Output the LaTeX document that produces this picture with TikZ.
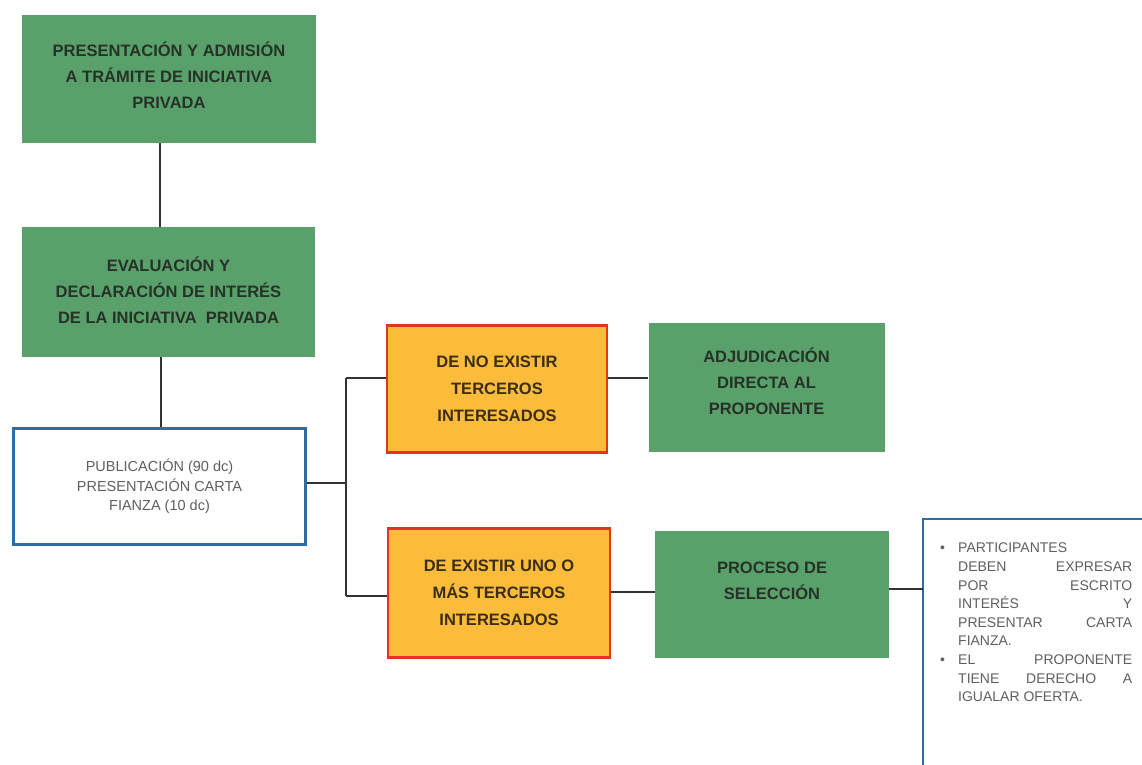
\documentclass[tikz,border=0pt]{standalone}
\usepackage{fontspec}
\setmainfont{Liberation Sans}
\definecolor{gfill}{RGB}{90,160,106}
\definecolor{gtext}{RGB}{38,50,40}
\definecolor{ofill}{RGB}{250,188,58}
\definecolor{oline}{RGB}{228,52,30}
\definecolor{otext}{RGB}{60,45,20}
\definecolor{bline}{RGB}{44,108,168}
\definecolor{btext}{RGB}{95,95,95}
\definecolor{conn}{RGB}{50,50,50}
\tikzset{
  gbox/.style={rectangle, fill=gfill, draw=none, inner sep=0pt},
  gtxt/.style={align=center, inner sep=0pt, text=gtext,
    font=\fontsize{16.5}{26}\selectfont\bfseries},
  obox/.style={rectangle, fill=ofill, draw=oline, line width=2.6pt, align=center, inner sep=0pt,
    text=otext, font=\fontsize{16.5}{27}\selectfont\bfseries},
  wbox/.style={rectangle, fill=white, draw=bline, line width=2.6pt, align=center, inner sep=0pt,
    text=btext, font=\fontsize{14.5}{19.5}\selectfont},
  link/.style={draw=conn, line width=1.6pt}
}
\begin{document}
\begin{tikzpicture}[x=1pt,y=-1pt]
\useasboundingbox (0,0) rectangle (1142,764);
\fill[white] (0,0) rectangle (1142,764);
% boxes
\node[gbox, minimum width=294pt, minimum height=128pt] (b1) at (169,79) {};
\node[gtxt] (b1t) at ([yshift=4pt]b1.center)
  {PRESENTACIÓN Y ADMISIÓN\\A TRÁMITE DE INICIATIVA\\PRIVADA};
\node[gbox, minimum width=293pt, minimum height=130pt] (b2) at (168.5,292) {};
\node[gtxt] (b2t) at ([yshift=2pt]b2.center)
  {EVALUACIÓN Y\\DECLARACIÓN DE INTERÉS\\DE LA INICIATIVA\ \ PRIVADA};
\node[wbox, minimum width=292pt, minimum height=116pt] (b3) at (159.5,486.5)
  {PUBLICACIÓN (90 dc)\\PRESENTACIÓN CARTA\\FIANZA (10 dc)};
\node[obox, minimum width=220pt, minimum height=127pt] (o1) at (497,389)
  {DE NO EXISTIR\\TERCEROS\\INTERESADOS};
\node[obox, minimum width=222pt, minimum height=129pt] (o2) at (499,593)
  {DE EXISTIR UNO O\\MÁS TERCEROS\\INTERESADOS};
\node[gbox, minimum width=236pt, minimum height=129pt] (g1) at (766.5,387.5) {};
\node[gtxt] (g1t) at ([yshift=6pt]g1.center)
  {ADJUDICACIÓN\\DIRECTA AL\\PROPONENTE};
\node[gbox, minimum width=234pt, minimum height=127pt] (g2) at (772,594.5) {};
\node[gtxt] (g2t) at ([yshift=14pt]g2.center)
  {PROCESO DE\\SELECCIÓN};
% right box (cut by the border of the picture)
\coordinate (rb) at (923,589);
\begin{scope}
\clip (0,0) rectangle (1142,764);
\draw[bline, line width=2.6pt, fill=white] (923,800) -- (923,519) -- (1160,519) -- (1160,800);
\end{scope}
\node[anchor=north west, inner sep=0pt, text=btext, align=left,
  font=\fontsize{14}{18.6}\selectfont] (txt) at (940,543)
  {\parbox[t]{192pt}{%
  \makebox[18pt][l]{\textbullet}\makebox[174pt][l]{PARTICIPANTES}\\
  \hspace*{18pt}\makebox[174pt][s]{DEBEN\hfill EXPRESAR}\\
  \hspace*{18pt}\makebox[174pt][s]{POR\hfill ESCRITO}\\
  \hspace*{18pt}\makebox[174pt][s]{INTERÉS\hfill Y}\\
  \hspace*{18pt}\makebox[174pt][s]{PRESENTAR\hfill CARTA}\\
  \hspace*{18pt}\makebox[174pt][l]{FIANZA.}\\
  \makebox[18pt][l]{\textbullet}\makebox[174pt][s]{EL\hfill PROPONENTE}\\
  \hspace*{18pt}\makebox[174pt][s]{TIENE\hfill DERECHO\hfill A}\\
  \hspace*{18pt}\makebox[174pt][l]{IGUALAR OFERTA.}}};
% connectors
\coordinate (t1) at (346,378);
\coordinate (t2) at (346,596);
\coordinate (tm) at (346,483);
\draw[link] (b1.south -| 160,0) -- (b2.north -| 160,0);
\draw[link] (b2.south -| 161,0) -- (b3.north -| 161,0);
\draw[link] (b3.east |- tm) -- (tm);
\draw[link] (t1) -- (t2);
\draw[link] (t1) -- (o1.west |- t1);
\draw[link] (t2) -- (o2.west |- t2);
\draw[link] (o1.east |- 0,378) -- (g1.west |- 0,378);
\draw[link] (o2.east |- 0,592) -- (g2.west |- 0,592);
\draw[link] (g2.east |- rb) -- (rb);
\end{tikzpicture}
\end{document}
